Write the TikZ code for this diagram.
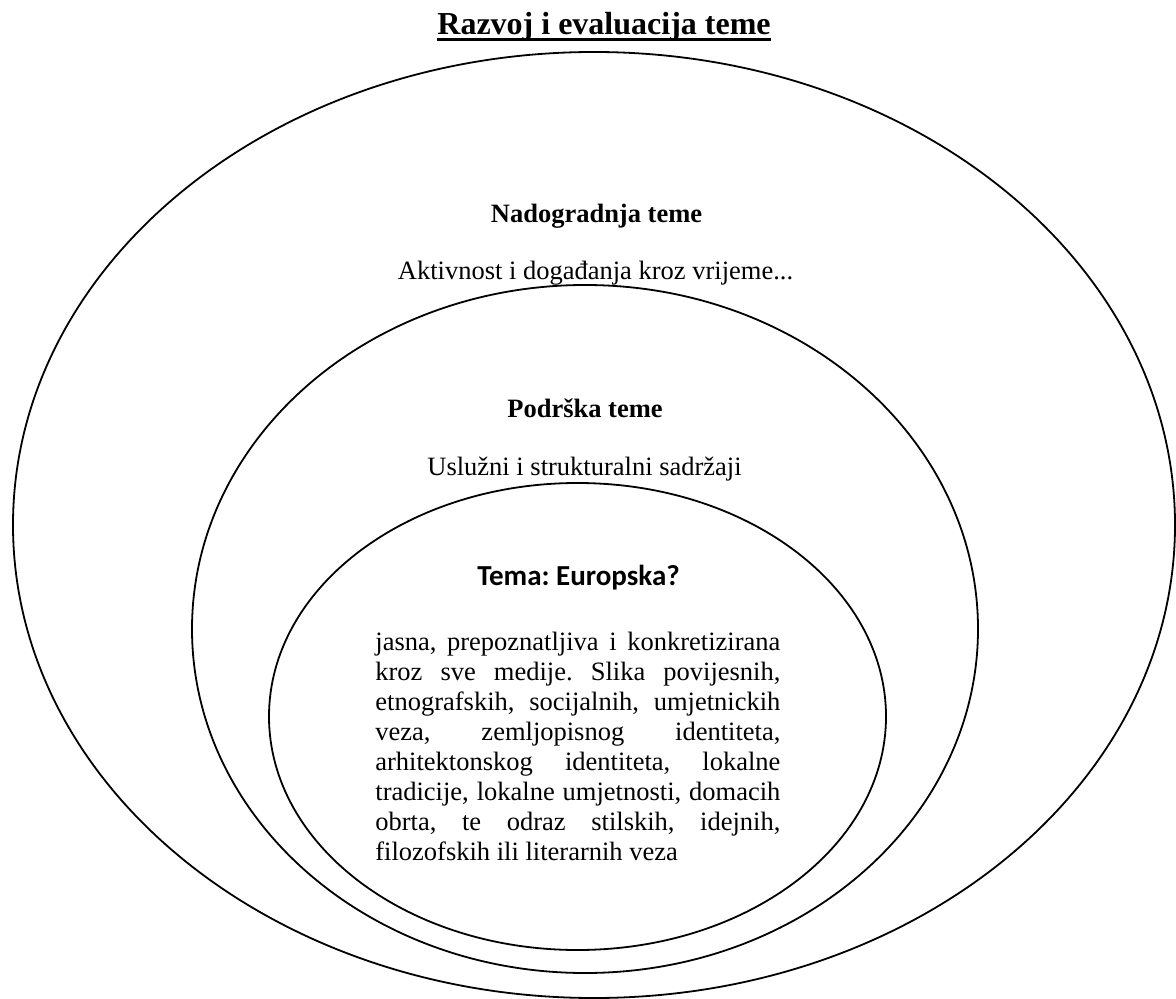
\documentclass[tikz,border=0pt]{standalone}
\usepackage{fontspec}
\setmainfont{Liberation Serif}
\newfontfamily\calibrifont{Carlito}
\usetikzlibrary{shapes.geometric}
\frenchspacing
\tikzset{
  ring/.style={draw, ellipse, line width=0.9pt, inner sep=0pt},
  bodytxt/.style={inner sep=0pt, anchor=base, font=\fontsize{13.25pt}{15pt}\selectfont},
  headtxt/.style={inner sep=0pt, anchor=base, font=\fontsize{13.25pt}{15pt}\selectfont\bfseries},
  titletxt/.style={inner sep=0pt, anchor=base, font=\fontsize{16pt}{19pt}\selectfont\bfseries},
  tematxt/.style={inner sep=0pt, anchor=base, font=\fontsize{14.5pt}{17pt}\selectfont\calibrifont\bfseries}
}
\begin{document}
\begin{tikzpicture}[x=0.5pt,y=-0.5pt]
\useasboundingbox[fill=white] (0,0) rectangle (1176,999);
% ellipses
\node[ring, minimum width=581pt, minimum height=473pt] (outer) at (594,525) {};
\node[ring, minimum width=393pt, minimum height=344pt] (middle) at (585,629) {};
\node[ring, minimum width=308.5pt, minimum height=233.5pt] (inner) at (577.5,716.5) {};
% title
\node[titletxt] (title) at (604,35) {Razvoj i evaluacija teme};
\draw[line width=1.5pt] ([yshift=-2.5pt]title.base west) -- ([yshift=-2.5pt]title.base east);
% outer ring texts
\node[headtxt] (nadogradnja) at (596.5,223) {Nadogradnja teme};
\node[bodytxt] (aktivnost) at (595.5,280) {Aktivnost i događanja kroz vrijeme...};
% middle ring texts
\node[headtxt] (podrska) at (585,417) {Podrška teme};
\node[bodytxt] (usluzni) at (584.5,475) {Uslužni i strukturalni sadržaji};
% inner ring texts
\node[tematxt] (tema) at (578.5,585) {Tema: Europska?};
\node[inner sep=0pt, anchor=base west] (opis) at (375,650) {\parbox[t]{202.5pt}{\fontsize{13.25pt}{15pt}\selectfont\frenchspacing
\makebox[\linewidth][s]{jasna, prepoznatljiva i konkretizirana}\\
\makebox[\linewidth][s]{kroz sve medije. Slika povijesnih,}\\
\makebox[\linewidth][s]{etnografskih, socijalnih, umjetnickih}\\
\makebox[\linewidth][s]{veza, zemljopisnog identiteta,}\\
\makebox[\linewidth][s]{arhitektonskog identiteta, lokalne}\\
\makebox[\linewidth][s]{tradicije, lokalne umjetnosti, domacih}\\
\makebox[\linewidth][s]{obrta, te odraz stilskih, idejnih,}\\
filozofskih ili literarnih veza}};
\end{tikzpicture}
\end{document}
